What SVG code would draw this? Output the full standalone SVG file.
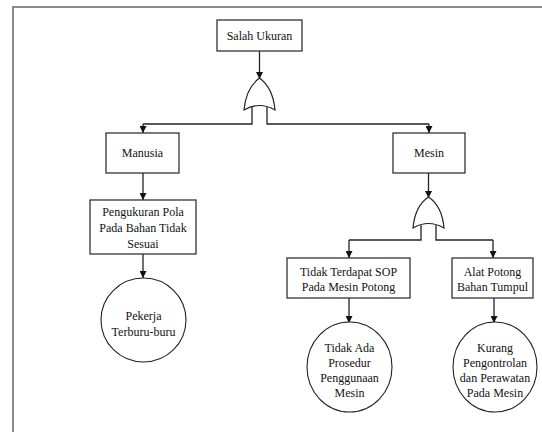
<svg xmlns="http://www.w3.org/2000/svg" width="542" height="432" viewBox="0 0 542 432">
  <defs>
    <marker id="arrow" viewBox="0 0 8 8" refX="8" refY="4" markerWidth="7" markerHeight="7" markerUnits="userSpaceOnUse" orient="auto">
      <path d="M0,0 L8,4 L0,8 Z" fill="#111"/>
    </marker>
    <style>
      .box { fill: #fff; stroke: #333; stroke-width: 1.3; }
      .evt { fill: #fff; stroke: #222; stroke-width: 1.1; }
      .gate { fill: #fff; stroke: #222; stroke-width: 1.2; }
      .line { fill: none; stroke: #222; stroke-width: 1.3; }
      .arr { fill: none; stroke: #222; stroke-width: 1.3; marker-end: url(#arrow); }
      .lbl { font-size: 12px; fill: #111; text-anchor: middle; }
    </style>
  </defs>

  <rect width="542" height="432" fill="#fff"/>
  <!-- outer frame -->
  <path d="M13,432 V7 H542" fill="none" stroke="#8a8a8a" stroke-width="2"/>

  <!-- connectors -->
  <g id="connectors">
    <line class="arr" x1="259.5" y1="51" x2="259.5" y2="79"/>
    <path class="line" d="M252,106 V124 H143"/>
    <line class="arr" x1="143" y1="124" x2="143" y2="133"/>
    <path class="line" d="M267,106 V124 H429"/>
    <line class="arr" x1="429" y1="124" x2="429" y2="133"/>
    <line class="arr" x1="143" y1="173" x2="143" y2="200"/>
    <line class="arr" x1="143" y1="254" x2="143" y2="278"/>
    <line class="arr" x1="428.5" y1="173" x2="428.5" y2="198"/>
    <path class="line" d="M421,225 V240 H349"/>
    <line class="arr" x1="349" y1="240" x2="349" y2="258"/>
    <path class="line" d="M436,225 V240 H493"/>
    <line class="arr" x1="493" y1="240" x2="493" y2="258"/>
    <line class="arr" x1="349" y1="298" x2="349" y2="323"/>
    <line class="arr" x1="494" y1="298" x2="494" y2="323"/>
  </g>

  <g font-family="Liberation Serif, Tinos, Times New Roman, Noto Serif, DejaVu Serif, serif">
  <g id="top-event">
    <rect class="box" x="217" y="20" width="85" height="31"/>
    <text class="lbl" x="259.5" y="40">Salah Ukuran</text>
  </g>

  <g id="gate-or-1">
    <path class="gate" d="M244,110 Q246,88 259.5,78 Q273,88 275,110 Q259.5,101 244,110 Z"/>
  </g>

  <g id="manusia">
    <rect class="box" x="106" y="133" width="73" height="40"/>
    <text class="lbl" x="142.5" y="157">Manusia</text>
  </g>

  <g id="mesin">
    <rect class="box" x="393" y="133" width="72" height="40"/>
    <text class="lbl" x="429" y="157">Mesin</text>
  </g>

  <g id="pengukuran">
    <rect class="box" x="90" y="200" width="106" height="54"/>
    <text class="lbl" x="143" y="216">Pengukuran Pola</text>
    <text class="lbl" x="143" y="232">Pada Bahan Tidak</text>
    <text class="lbl" x="143" y="248">Sesuai</text>
  </g>

  <g id="pekerja">
    <ellipse class="evt" cx="143.5" cy="320" rx="42.5" ry="42"/>
    <text class="lbl" x="143.5" y="320">Pekerja</text>
    <text class="lbl" x="143.5" y="336">Terburu-buru</text>
  </g>

  <g id="gate-or-2">
    <path class="gate" d="M413,228 Q415,206 428.5,197 Q442,206 444,228 Q428.5,219 413,228 Z"/>
  </g>

  <g id="tidak-sop">
    <rect class="box" x="287" y="258" width="123" height="40"/>
    <text class="lbl" x="348.5" y="276">Tidak Terdapat SOP</text>
    <text class="lbl" x="348.5" y="291">Pada Mesin Potong</text>
  </g>

  <g id="alat-potong">
    <rect class="box" x="452" y="258" width="81" height="40"/>
    <text class="lbl" x="492.5" y="276">Alat Potong</text>
    <text class="lbl" x="492.5" y="291">Bahan Tumpul</text>
  </g>

  <g id="prosedur">
    <ellipse class="evt" cx="349.5" cy="367" rx="42.5" ry="45"/>
    <text class="lbl" x="349.5" y="352">Tidak Ada</text>
    <text class="lbl" x="349.5" y="367">Prosedur</text>
    <text class="lbl" x="349.5" y="382">Penggunaan</text>
    <text class="lbl" x="349.5" y="397">Mesin</text>
  </g>

  <g id="pengontrolan">
    <ellipse class="evt" cx="495" cy="367" rx="42" ry="45"/>
    <text class="lbl" x="495" y="352">Kurang</text>
    <text class="lbl" x="495" y="367">Pengontrolan</text>
    <text class="lbl" x="495" y="382">dan Perawatan</text>
    <text class="lbl" x="495" y="397">Pada Mesin</text>
  </g>
  </g>
</svg>
